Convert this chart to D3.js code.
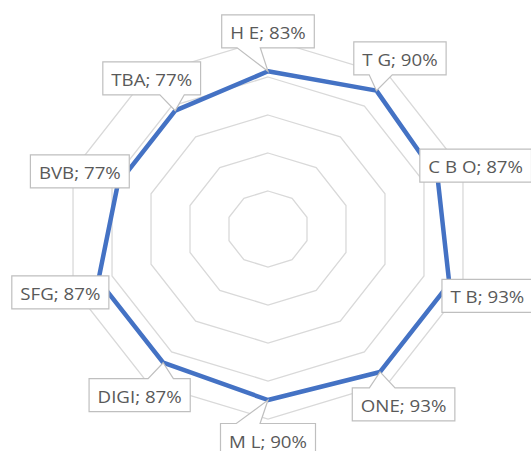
<!DOCTYPE html>
<html>
<head>
<meta charset="utf-8">
<script src="https://cdn.jsdelivr.net/npm/d3@7"></script>
<style>
  body { margin: 0; background: #fff; }
  svg { display: block; }
</style>
</head>
<body>
<div id="chart"></div>
<script>
// radar chart with callout labels

var categories = ['H E', 'T G', 'C B O', 'T B', 'ONE', 'M L', 'DIGI', 'SFG', 'BVB', 'TBA'];
var values = [0.83, 0.90, 0.87, 0.93, 0.93, 0.90, 0.87, 0.87, 0.77, 0.77];
var grid_ticks = [0.2, 0.4, 0.6, 0.8, 1.0];

var chart_width = 531;
var chart_height = 451;
var cx = 268;
var cy = 229;

var svg = d3
  .select('#chart')
  .append('svg')
  .attr('width', chart_width)
  .attr('height', chart_height);

// the picture is a bit wider than tall, so two radial scales
var rx = d3.scaleLinear().domain([0, 1]).range([0, 205]);
var ry = d3.scaleLinear().domain([0, 1]).range([0, 190]);
var angle = d3
  .scaleLinear()
  .domain([0, categories.length])
  .range([0, 2 * Math.PI]);

function px(v, i) {
  return cx + rx(v) * Math.sin(angle(i));
}
function py(v, i) {
  return cy - ry(v) * Math.cos(angle(i));
}

// grid decagons
svg
  .selectAll('polygon.grid')
  .data(grid_ticks)
  .enter()
  .append('polygon')
  .attr('class', 'grid')
  .attr('points', function(t) {
    return categories
      .map(function(c, i) {
        return px(t, i) + ',' + py(t, i);
      })
      .join(' ');
  })
  .attr('fill', 'none')
  .attr('stroke', '#d9d9d9')
  .attr('stroke-width', 1.3);

// series line
var line = d3
  .line()
  .x(function(d, i) {
    return px(d, i);
  })
  .y(function(d, i) {
    return py(d, i);
  })
  .curve(d3.curveLinearClosed);

svg
  .append('path')
  .datum(values)
  .attr('d', line)
  .attr('fill', 'none')
  .attr('stroke', '#4472c4')
  .attr('stroke-width', 4.5)
  .attr('stroke-linejoin', 'round');

// callout labels
var fmt = d3.format('.0%');
var box_h = 33;
var box_gap = 40;
var stretch = 1.1;

var labels = svg
  .selectAll('g.lab')
  .data(values)
  .enter()
  .append('g')
  .attr('class', 'lab');

labels.each(function(v, i) {
  var g = d3.select(this);
  var tipx = px(v, i);
  var tipy = py(v, i);
  var bx = tipx + box_gap * Math.sin(angle(i));
  var by = tipy - box_gap * Math.cos(angle(i));

  var path = g.append('path');
  var txt = g
    .append('text')
    .attr('transform', 'translate(' + bx + ',' + (by + 7.5) + ') scale(' + stretch + ',1)')
    .attr('text-anchor', 'middle')
    .style('font-family', '"Open Sans", sans-serif')
    .style('font-size', '17px')
    .attr('fill', '#595959')
    .text(categories[i] + '; ' + fmt(v));

  var w = txt.node().getComputedTextLength() * stretch + 17;
  var h = box_h;
  var L = bx - w / 2;
  var T = by - h / 2;
  var dx = tipx - bx;
  var dy = tipy - by;
  var d;
  var inside = Math.abs(dx) < w / 2 && Math.abs(dy) < h / 2;
  if (inside) {
    d = 'M' + L + ',' + T + 'H' + (L + w) + 'V' + (T + h) + 'H' + L + 'Z';
  } else if (Math.abs(dy) > Math.abs(dx * h / w)) {
    var x1 = L + w * (dx > 0 ? 7 : 2) / 12;
    var x2 = L + w * (dx > 0 ? 10 : 5) / 12;
    if (dy < 0) {
      d = 'M' + L + ',' + T + 'L' + x1 + ',' + T + 'L' + tipx + ',' + tipy +
        'L' + x2 + ',' + T + 'L' + (L + w) + ',' + T + 'V' + (T + h) + 'H' + L + 'Z';
    } else {
      d = 'M' + L + ',' + T + 'H' + (L + w) + 'V' + (T + h) + 'L' + x2 + ',' + (T + h) +
        'L' + tipx + ',' + tipy + 'L' + x1 + ',' + (T + h) + 'H' + L + 'Z';
    }
  } else {
    var y1 = T + h * (dy > 0 ? 7 : 2) / 12;
    var y2 = T + h * (dy > 0 ? 10 : 5) / 12;
    if (dx < 0) {
      d = 'M' + L + ',' + T + 'H' + (L + w) + 'V' + (T + h) + 'H' + L + 'L' + L + ',' + y2 +
        'L' + tipx + ',' + tipy + 'L' + L + ',' + y1 + 'Z';
    } else {
      d = 'M' + L + ',' + T + 'H' + (L + w) + 'L' + (L + w) + ',' + y1 + 'L' + tipx + ',' + tipy +
        'L' + (L + w) + ',' + y2 + 'V' + (T + h) + 'H' + L + 'Z';
    }
  }
  path
    .attr('d', d)
    .attr('fill', '#fff')
    .attr('stroke', '#bfbfbf')
    .attr('stroke-width', 1.2);
});
</script>
</body>
</html>
